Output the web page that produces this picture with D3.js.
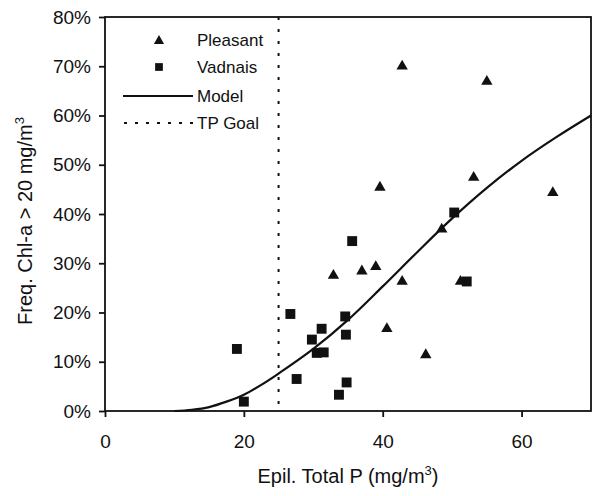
<!DOCTYPE html>
<html>
<head>
<meta charset="utf-8">
<script src="https://cdn.jsdelivr.net/npm/d3@7"></script>
<style>
    body { margin: 0; background: #fff; }
    svg { display: block; font-family: "Liberation Sans", Arial, sans-serif; }
    .axis path, .axis line { stroke: #111; stroke-width: 1.8; }
    .axis text { font-size: 19px; fill: #111; }
</style>
</head>
<body>
<div id="chart"></div>
<script>
// Freq. Chl-a > 20 vs epilimnetic total P

// 数据
const pleasantX = [42.8, 55.0, 39.6, 53.1, 64.5, 32.9, 37.0, 39.0, 42.8, 48.5, 51.2, 40.6, 46.2];
const pleasantY = [70.0, 66.9, 45.4, 47.4, 44.3, 27.5, 28.4, 29.3, 26.3, 36.9, 26.3, 16.7, 11.4];

const vadnaisX = [19.0, 20.0, 26.7, 27.6, 29.8, 31.2, 30.5, 31.5, 34.6, 34.7, 34.8, 33.7, 35.6, 50.3, 52.1];
const vadnaisY = [12.6, 1.9, 19.7, 6.5, 14.5, 16.7, 11.8, 11.9, 19.2, 15.5, 5.8, 3.3, 34.5, 40.3, 26.3];

// model curve
const modelX = [10, 12.5, 15, 17.5, 20, 22.5, 25, 30, 35, 40, 45, 50, 55, 60, 65, 70];
const modelY = [0, 0.25, 0.8, 1.9, 3.3, 5.3, 7.6, 12.6, 18.5, 25.3, 32.3, 39.1, 45.3, 50.8, 55.6, 60];

const tpGoal = 25;

const xTicks = [0, 20, 40, 60];
const yTicks = [0, 10, 20, 30, 40, 50, 60, 70, 80];

const legendItems = ["Pleasant", "Vadnais", "Model", "TP Goal"];

// 配置
const W = 593, H = 496;
const margin = {top: 17, right: 2, bottom: 85, left: 105};
const width = W - margin.left - margin.right;
const height = H - margin.top - margin.bottom;

const svg = d3.select("#chart").append("svg")
    .attr("width", W)
    .attr("height", H);

const g = svg.append("g")
    .attr("transform", `translate(${margin.left},${margin.top})`);

const x = d3.scaleLinear().domain([0, 70]).range([0, width]);
const y = d3.scaleLinear().domain([0, 80]).range([height, 0]);

// 边框
g.append("rect")
    .attr("x", 0).attr("y", 0)
    .attr("width", width).attr("height", height)
    .style("fill", "none")
    .style("stroke", "#111")
    .style("stroke-width", 1.8);

// 坐标轴
g.append("g")
    .attr("class", "axis")
    .attr("transform", `translate(0,${height})`)
    .call(d3.axisBottom(x).tickValues(xTicks).tickSize(6).tickPadding(18).tickSizeOuter(0))
    .call(a => a.select(".domain").remove());

g.append("g")
    .attr("class", "axis")
    .call(d3.axisLeft(y).tickValues(yTicks).tickSize(6).tickPadding(8).tickSizeOuter(0)
        .tickFormat(d => d + "%"))
    .call(a => a.select(".domain").remove());

// TP goal
g.append("line")
    .attr("x1", x(tpGoal)).attr("x2", x(tpGoal))
    .attr("y1", 0).attr("y2", height)
    .style("stroke", "#111")
    .style("stroke-width", 2)
    .style("stroke-dasharray", "3,9");

// 模型曲线
const line = d3.line()
    .x(d => x(d[0]))
    .y(d => y(d[1]))
    .curve(d3.curveCatmullRom);

g.append("path")
    .datum(modelX.map((v, i) => [v, modelY[i]]))
    .attr("d", line)
    .style("fill", "none")
    .style("stroke", "#111")
    .style("stroke-width", 2.2);

// 数据点
const tri = d3.symbol().type(d3.symbolTriangle).size(56);
const sq = d3.symbol().type(d3.symbolSquare).size(98);

g.selectAll(".vad")
    .data(vadnaisX.map((v, i) => [v, vadnaisY[i]]))
    .enter()
    .append("path")
    .attr("class", "vad")
    .attr("d", sq)
    .attr("transform", d => `translate(${x(d[0])},${y(d[1])})`)
    .style("fill", "#111");

g.selectAll(".ple")
    .data(pleasantX.map((v, i) => [v, pleasantY[i]]))
    .enter()
    .append("path")
    .attr("class", "ple")
    .attr("d", tri)
    .attr("transform", d => `translate(${x(d[0])},${y(d[1])})`)
    .style("fill", "#111");

// 图例
const lg = svg.append("g");
const rowY = [40, 67, 96, 123];

lg.append("path").attr("d", d3.symbol().type(d3.symbolTriangle).size(45))
    .attr("transform", `translate(159,${rowY[0] + 1})`).style("fill", "#111");
lg.append("path").attr("d", d3.symbol().type(d3.symbolSquare).size(60))
    .attr("transform", `translate(159,${rowY[1]})`).style("fill", "#111");
lg.append("line")
    .attr("x1", 123).attr("x2", 193).attr("y1", rowY[2]).attr("y2", rowY[2])
    .style("stroke", "#111").style("stroke-width", 2);
lg.append("line")
    .attr("x1", 124).attr("x2", 193).attr("y1", rowY[3]).attr("y2", rowY[3])
    .style("stroke", "#111").style("stroke-width", 2)
    .style("stroke-dasharray", "3,8");

legendItems.forEach((t, i) => {
    lg.append("text")
        .attr("x", 197).attr("y", rowY[i] + 6)
        .style("font-size", "17px")
        .style("fill", "#111")
        .text(t);
});

// 轴标题
const xt = svg.append("text")
    .attr("x", 348).attr("y", 483)
    .attr("text-anchor", "middle")
    .style("font-size", "20px")
    .style("fill", "#111");
xt.append("tspan").text("Epil. Total P (mg/m");
xt.append("tspan").attr("dy", -8).style("font-size", "13px").text("3");
xt.append("tspan").attr("dy", 8).text(")");

const yt = svg.append("text")
    .attr("transform", `translate(32,221) rotate(-90)`)
    .attr("text-anchor", "middle")
    .style("font-size", "20px")
    .style("fill", "#111");
yt.append("tspan").text("Freq. Chl-a > 20 mg/m");
yt.append("tspan").attr("dy", -8).style("font-size", "13px").text("3");
</script>
</body>
</html>
